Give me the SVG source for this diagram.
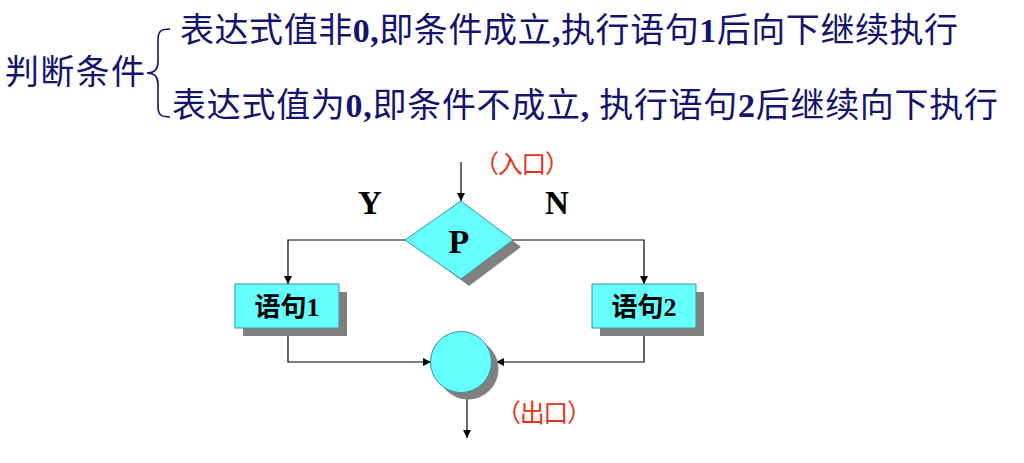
<svg xmlns="http://www.w3.org/2000/svg" width="1024" height="463" viewBox="0 0 1024 463">
<style>
.t{font-family:"Liberation Serif","Noto Sans CJK SC",serif;fill:#14146e;font-size:34px}
.b{font-weight:bold}
.sh{fill:#808080}
.nd{fill:#6ff;stroke:#3a8fa0;stroke-width:1}
.lbl{font-family:"Liberation Serif","Noto Sans CJK SC",serif;fill:#000;font-weight:bold}
.red{font-family:"Noto Sans CJK SC",sans-serif;fill:#e8331c;font-size:25px}
.ln{fill:none;stroke:#000;stroke-width:1.2}
</style>
<defs>
<marker id="ah" viewBox="0 0 10 10" refX="10" refY="5" markerWidth="8" markerHeight="8" markerUnits="userSpaceOnUse" orient="auto">
<path d="M0,0 L10,5 L0,10 Z" fill="#000"/>
</marker>
</defs>
<g id="header">
<text class="t" x="5" y="84" font-size="34" textLength="140" lengthAdjust="spacing">判断条件</text>
<path d="M170,29 C160,29 158,32 158,40 L158,62 C158,70 154,73 147,73 C154,73 158,76 158,84 L158,106 C158,114 160,117 170,117" fill="none" stroke="#14146e" stroke-width="1.6"/>
<text class="t" x="180" y="42" textLength="778" lengthAdjust="spacing">表达式值非<tspan class="b">0,</tspan>即条件成立<tspan class="b">,</tspan>执行语句<tspan class="b">1</tspan>后向下继续执行</text>
<text class="t" x="172" y="117" textLength="826" lengthAdjust="spacing">表达式值为<tspan class="b">0,</tspan>即条件不成立<tspan class="b">, </tspan>执行语句<tspan class="b">2</tspan>后继续向下执行</text>
</g>
<g id="connectors">
<path class="ln" d="M461,162 L461,201" marker-end="url(#ah)"/>
<path class="ln" d="M405,240 L288,240 L288,284" marker-end="url(#ah)"/>
<path class="ln" d="M513,240 L644,240 L644,284" marker-end="url(#ah)"/>
<path class="ln" d="M288,328 L288,362 L431,362" marker-end="url(#ah)"/>
<path class="ln" d="M644,328 L644,362 L496,362" marker-end="url(#ah)"/>
<path class="ln" d="M467,395 L467,438" marker-end="url(#ah)"/>
</g>
<g id="label-entry"><text class="red" x="474" y="173" textLength="96" lengthAdjust="spacing">（入口）</text></g>
<g id="label-Y"><text class="lbl" x="370" y="214" font-size="33" text-anchor="middle">Y</text></g>
<g id="label-N"><text class="lbl" x="557" y="214" font-size="33" text-anchor="middle">N</text></g>
<g id="node-P">
<path class="sh" d="M469,208 L521,247 L469,286 L417,247 Z"/>
<path class="nd" d="M461,201 L513,240 L461,279 L405,240 Z"/>
<text class="lbl" x="459" y="253" font-size="34" text-anchor="middle">P</text>
</g>
<g id="node-stmt1">
<rect class="sh" x="243" y="292" width="104" height="44"/>
<rect class="nd" x="235" y="284" width="104" height="44"/>
<text class="lbl" x="287" y="316" font-size="26" text-anchor="middle">语句1</text>
</g>
<g id="node-stmt2">
<rect class="sh" x="600" y="292" width="104" height="44"/>
<rect class="nd" x="592" y="284" width="104" height="44"/>
<text class="lbl" x="644" y="316" font-size="26" text-anchor="middle">语句2</text>
</g>
<g id="node-exit">
<circle class="sh" cx="468" cy="369" r="30.5"/>
<circle class="nd" cx="461" cy="362" r="30.5"/>
</g>
<g id="label-exit"><text class="red" x="496" y="422" textLength="96" lengthAdjust="spacing">（出口）</text></g>
</svg>
